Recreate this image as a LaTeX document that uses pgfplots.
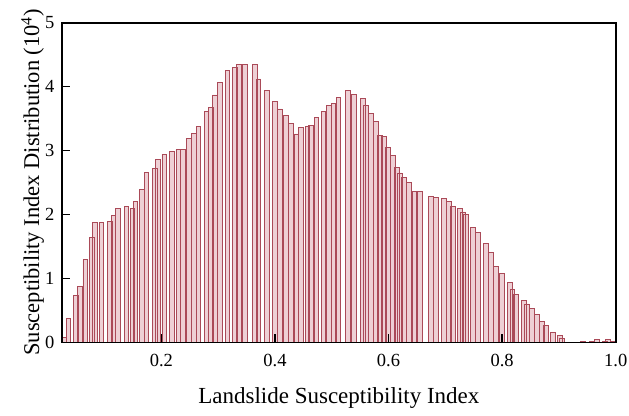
\documentclass[border=0pt]{standalone}
\usepackage{fontspec}
\setmainfont{Liberation Serif}
\usepackage{pgfplots}
\pgfplotsset{compat=1.18}
\definecolor{baredge}{RGB}{170,74,88}
\definecolor{barfill}{RGB}{238,208,213}
\begin{document}
\begin{tikzpicture}
\begin{axis}[
 at={(0,0)}, anchor=south west,
 width=553.7pt, height=319.6pt, scale only axis,
 xmin=0.025, xmax=1.0, ymin=0, ymax=5,
 ybar, bar width=0.0082,
 xtick={0.2,0.4,0.6,0.8,1.0},
 ytick={0,1,2,3,4,5},
 xticklabel style={/pgf/number format/fixed,/pgf/number format/precision=1,/pgf/number format/fixed zerofill, yshift=-8pt},
 yticklabel style={xshift=-4pt},
 tick align=inside, xtick pos=bottom, ytick pos=left,
 major tick length=8pt,
 axis line style={line width=1.6pt},
 tick style={line width=1.6pt, black},
 tick label style={font=\fontsize{18.5}{21}\selectfont},
 /pgf/number format/assume math mode=true,
 xlabel={Landslide Susceptibility Index},
 ylabel={Susceptibility Index Distribution (10\textsuperscript{4})},
 xlabel style={font=\fontsize{23}{26}\selectfont, at={(axis description cs:0.5,-0.19)}, anchor=base},
 ylabel style={font=\fontsize{22.5}{25}\selectfont, at={(axis description cs:-0.053,0.5)}, anchor=center},
 axis on top,
]
\addplot[draw=baredge, fill=barfill, line width=0.8pt] coordinates {
(0.028,0.07) (0.0365,0.376) (0.049,0.74) (0.056,0.88) (0.066,1.29) (0.078,1.64) (0.083,1.87) (0.0945,1.87)
(0.109,1.89) (0.1156,1.99) (0.123,2.09) (0.1385,2.12) (0.1487,2.09) (0.1545,2.20) (0.166,2.39) (0.1737,2.66)
(0.1884,2.72) (0.1942,2.86) (0.2051,2.94) (0.218,2.99) (0.2298,3.02) (0.238,3.02) (0.2479,3.19) (0.2571,3.27)
(0.2654,3.37) (0.2795,3.61) (0.2867,3.68) (0.2941,3.87) (0.3029,4.07) (0.3165,4.25) (0.3293,4.30) (0.3364,4.35)
(0.3469,4.35) (0.3646,4.35) (0.3707,4.12) (0.3857,3.94) (0.3998,3.77) (0.4086,3.65) (0.4192,3.55) (0.428,3.42)
(0.4377,3.26) (0.4456,3.36) (0.4574,3.38) (0.4632,3.39) (0.4729,3.52) (0.4852,3.61) (0.4949,3.71) (0.5029,3.74)
(0.5117,3.83) (0.5284,3.94) (0.539,3.88) (0.5548,3.81) (0.5601,3.70) (0.5689,3.58) (0.5777,3.45) (0.5842,3.24)
(0.5918,3.22) (0.5983,3.05) (0.6077,2.93) (0.6142,2.73) (0.62,2.65) (0.6271,2.58) (0.6359,2.50) (0.6456,2.36)
(0.6553,2.36) (0.6746,2.28) (0.6834,2.27) (0.6975,2.25) (0.7063,2.21) (0.7134,2.13) (0.7257,2.09) (0.731,2.04)
(0.7363,2.00) (0.7486,1.79) (0.7574,1.72) (0.7715,1.54) (0.7803,1.40) (0.7891,1.19) (0.7997,1.08) (0.8133,0.94)
(0.8179,0.83) (0.8244,0.75) (0.8385,0.66) (0.8438,0.60) (0.8526,0.53) (0.8614,0.44) (0.8697,0.33) (0.8772,0.26)
(0.8896,0.16) (0.9014,0.11) (0.9054,0.06) (0.9424,0.015) (0.9578,0.015) (0.9671,0.05) (0.9807,0.01) (0.986,0.05)
(0.9944,0.02)
};
\end{axis}
\pgfresetboundingbox
\path (-62pt,-72.7pt) rectangle (567pt,342.3pt);
\end{tikzpicture}
\end{document}
